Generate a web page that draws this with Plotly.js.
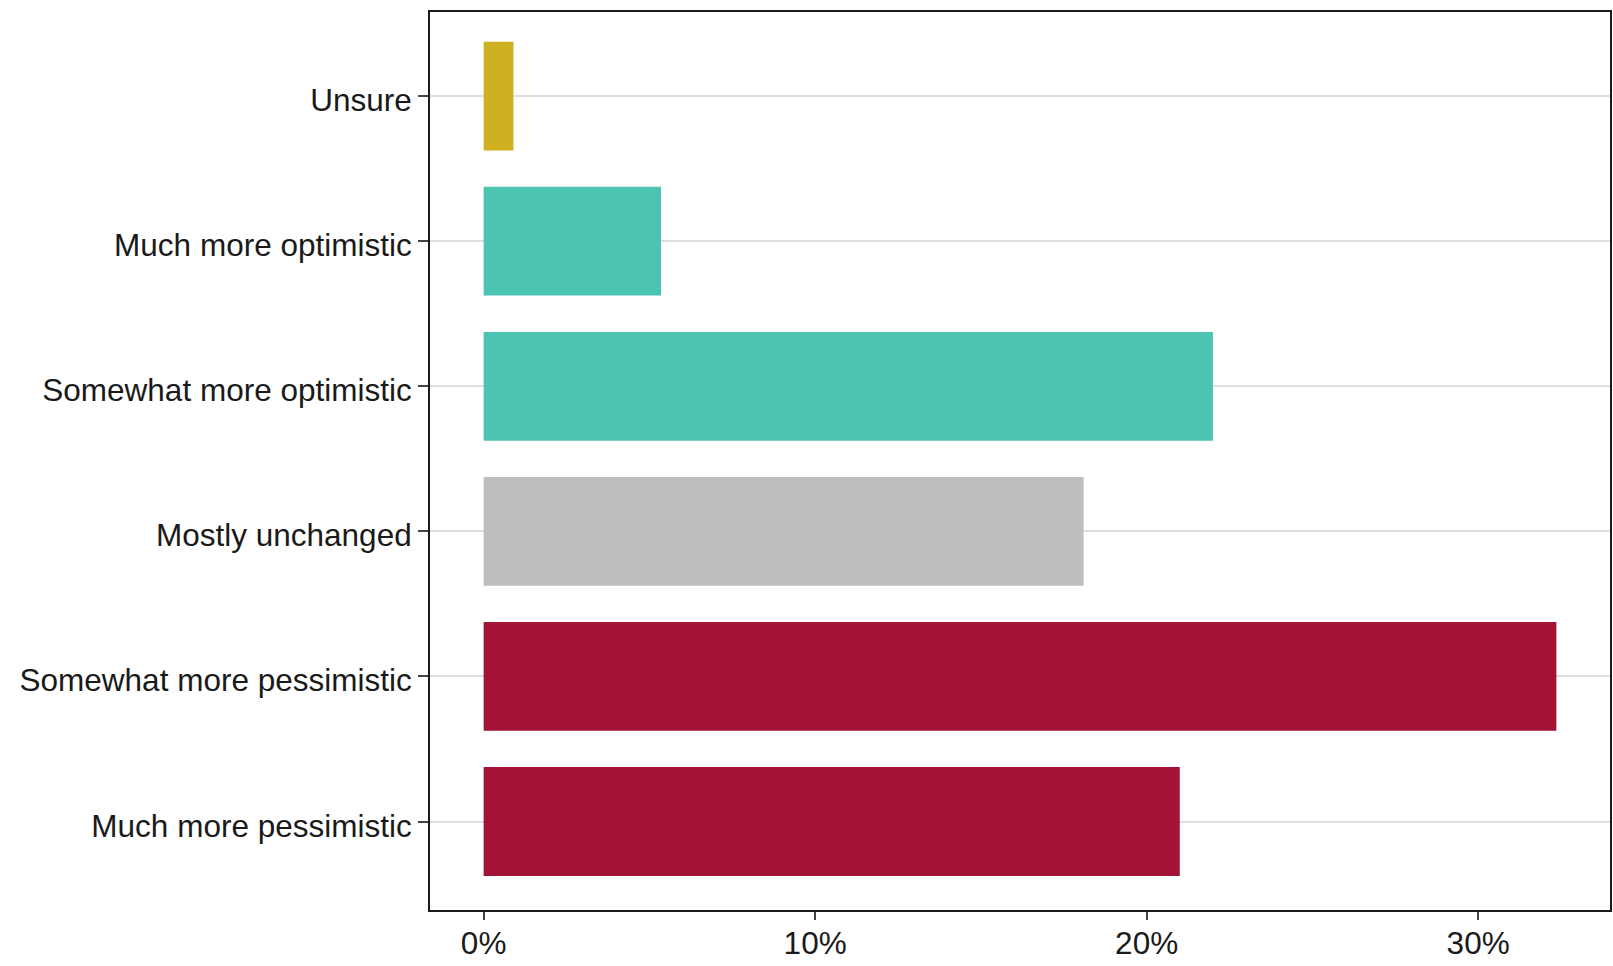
<!DOCTYPE html>
<html>
<head>
<meta charset="utf-8">
<script src="https://cdn.plot.ly/plotly-3.0.1.min.js"></script>
<style>html,body{margin:0;padding:0;background:#fff;}#chart{width:1613px;height:966px;}</style>
</head>
<body>
<div id="chart"></div>
<script>
// Data (bottom to top)
const categories = ["Much more pessimistic", "Somewhat more pessimistic", "Mostly unchanged", "Somewhat more optimistic", "Much more optimistic", "Unsure"];
const shares = [21.0, 32.36, 18.1, 22.0, 5.35, 0.9];
const barColors = ["#A31335", "#A31335", "#BEBEBE", "#4BC5B1", "#4BC5B1", "#CFB020"];
const xTicks = [0, 10, 20, 30];
const xTickLabels = ["0%", "10%", "20%", "30%"];

const maxV = Math.max(...shares);
const pad = maxV * 0.05;

const trace = {
  type: "bar",
  orientation: "h",
  x: shares,
  y: categories,
  marker: { color: barColors, line: { width: 0 } },
  hoverinfo: "x+y"
};

const fontFam = "Liberation Sans, Arial, sans-serif";

const layout = {
  width: 1613,
  height: 966,
  margin: { l: 430, r: 3, t: 12, b: 56 },
  paper_bgcolor: "#ffffff",
  plot_bgcolor: "#ffffff",
  showlegend: false,
  bargap: 0.25,
  xaxis: {
    range: [-pad, maxV + pad],
    tickvals: xTicks,
    ticktext: xTickLabels,
    showgrid: false,
    zeroline: false,
    showline: true,
    mirror: true,
    linecolor: "#1a1a1a",
    linewidth: 2,
    ticks: "outside",
    ticklen: 8,
    tickwidth: 2,
    tickcolor: "#444",
    ticklabelstandoff: -4,
    tickfont: { family: fontFam, size: 31.5, color: "#1a1a1a" }
  },
  yaxis: {
    type: "category",
    categoryorder: "array",
    categoryarray: categories,
    range: [-0.61, categories.length - 0.42],
    showgrid: true,
    gridcolor: "#dedede",
    gridwidth: 2,
    zeroline: false,
    showline: true,
    mirror: true,
    linecolor: "#1a1a1a",
    linewidth: 2,
    ticks: "outside",
    ticklen: 10,
    tickwidth: 2,
    tickcolor: "#444",
    ticklabelshift: 4,
    tickfont: { family: fontFam, size: 31.5, color: "#1a1a1a" }
  }
};

Plotly.newPlot("chart", [trace], layout, { displayModeBar: false, staticPlot: true });
</script>
</body>
</html>
